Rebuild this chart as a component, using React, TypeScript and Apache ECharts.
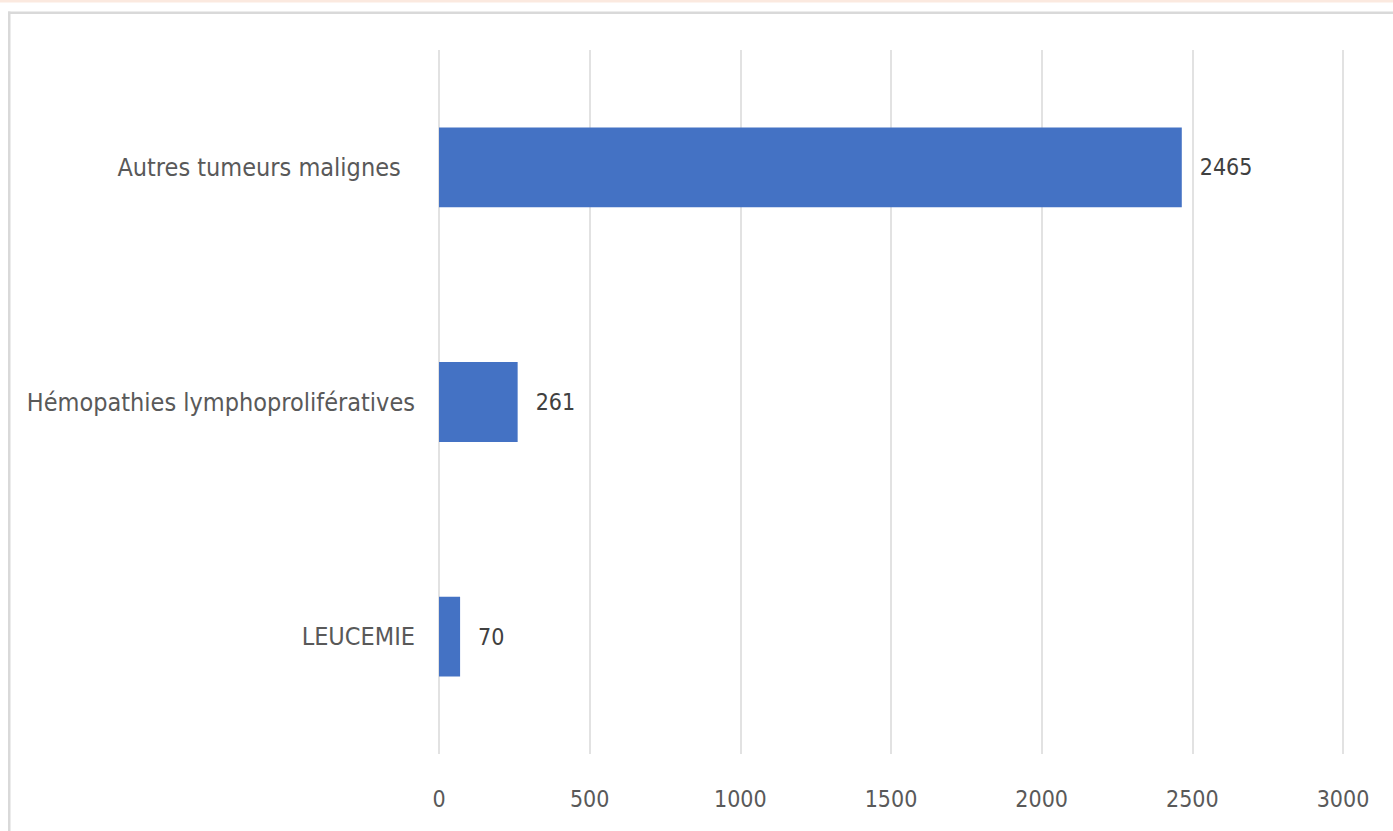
import React, { useEffect, useRef } from "react";
import * as echarts from "echarts";

const categories = ["Autres tumeurs malignes  ", "Hémopathies lymphoprolifératives", "LEUCEMIE"];
const values = [2465, 261, 70];
const xTicks = { min: 0, max: 3000, interval: 500 };

const FONT = "'DejaVu Sans Condensed', 'Liberation Sans Narrow', 'Noto Sans', sans-serif";

export default function App() {
  const ref = useRef<HTMLDivElement>(null);
  useEffect(() => {
    document.body.style.margin = "0";
    const chart = echarts.init(ref.current!, null, { renderer: "svg" });
    chart.setOption({
      animation: false,
      backgroundColor: "#ffffff",
      graphic: [
        { type: "rect", shape: { x: 0, y: 0, width: 1393, height: 2.5 }, style: { fill: "#fbe9df" } },
        { type: "rect", shape: { x: 8, y: 11.5, width: 1385, height: 2.5 }, style: { fill: "#d9d9d9" } },
        { type: "rect", shape: { x: 8, y: 11.5, width: 2.5, height: 820 }, style: { fill: "#d9d9d9" } },
      ],
      grid: { left: 439, right: 50, top: 50, bottom: 77, containLabel: false },
      xAxis: {
        type: "value",
        min: xTicks.min,
        max: xTicks.max,
        interval: xTicks.interval,
        axisLine: { show: false },
        axisTick: { show: false },
        axisLabel: {
          color: "#595959",
          fontFamily: FONT,
          fontSize: 23,
          margin: 33,
          formatter: (v: number) => String(v),
        },
        splitLine: { lineStyle: { color: "#d9d9d9", width: 1.5 } },
      },
      yAxis: {
        type: "category",
        data: categories,
        inverse: true,
        axisLine: { show: false },
        axisTick: { show: false },
        axisLabel: { color: "#595959", fontFamily: FONT, fontSize: 25, margin: 24 },
      },
      series: [
        {
          type: "bar",
          data: values,
          barCategoryGap: "66%",
          itemStyle: { color: "#4472c4" },
          label: {
            show: true,
            position: "right",
            distance: 18,
            color: "#404040",
            fontFamily: FONT,
            fontSize: 23,
          },
        },
      ],
    });
    return () => chart.dispose();
  }, []);
  return <div ref={ref} style={{ position: "fixed", left: 0, top: 0, width: 1393, height: 831 }} />;
}
